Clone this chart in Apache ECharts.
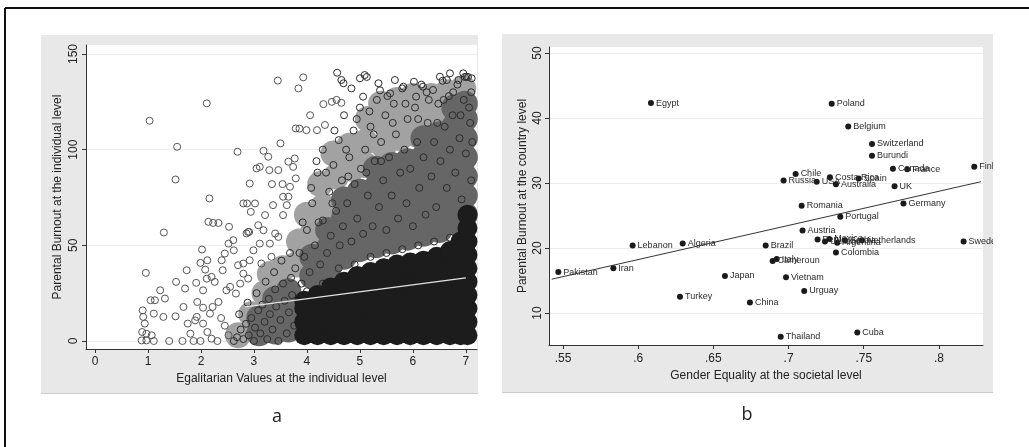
<!DOCTYPE html>
<html>
<head>
<meta charset="utf-8">
<script src="https://cdn.jsdelivr.net/npm/echarts@6/dist/echarts.min.js"></script>
<style>
    html, body { margin: 0; padding: 0; background: #fff; }
    #chart { width: 1029px; height: 447px; }
</style>
</head>
<body>
<div id="chart"></div>
<script>
// panel a: individual level (egalitarian values, parental burnout)
var indivTicksX = [0, 1, 2, 3, 4, 5, 6, 7]
var indivTicksY = [0, 50, 100, 150]

// scattered single respondents
var indivSparse = [
    [1.03, 115.1], [2.11, 124.2], [1.55, 101.5], [1.52, 84.4], [1.30, 56.7], [2.16, 74.5],
    [2.69, 98.9], [2.92, 82.3], [3.45, 136.1], [3.93, 137.8], [3.84, 132.0], [3.18, 99.4],
    [3.27, 96.3], [3.50, 103.3], [3.05, 90.2], [3.11, 91.0], [3.29, 89.3], [3.46, 89.3],
    [2.87, 71.9], [3.02, 71.9], [2.94, 67.5], [2.89, 57.0], [2.80, 71.9], [3.34, 82.0],
    [3.54, 82.0], [3.65, 93.7], [3.77, 95.4], [3.79, 111.1], [3.86, 111.0], [3.99, 110.2],
    [4.06, 118.0], [4.19, 110.2], [4.34, 112.9], [4.31, 123.8], [4.47, 125.0], [4.56, 126.0],
    [4.65, 124.5], [0.97, 0.3], [0.90, 16.0], [0.96, 35.6], [1.05, 21.3], [1.13, 21.3],
    [1.23, 26.5], [1.32, 22.2], [1.29, 12.6], [1.11, 14.3], [0.91, 12.6], [0.94, 9.1],
    [0.89, 4.7], [0.88, 0.3], [0.97, 3.8], [1.07, 3.0], [1.11, 0], [1.40, 0],
    [1.52, 12.9], [1.53, 30.9], [1.67, 17.8], [1.70, 27.4], [1.73, 37.0], [1.65, 0],
    [1.75, 9.1], [1.80, 3.8], [1.86, 0], [1.89, 10.8], [1.92, 12.6], [1.93, 20.4],
    [1.91, 30.4], [1.99, 40.8], [2.02, 47.8], [2.08, 37.3], [2.12, 42.2], [2.14, 62.3],
    [2.23, 61.7], [2.33, 61.7], [2.04, 26.5], [2.11, 32.6], [2.20, 33.5], [2.26, 30.9],
    [2.04, 17.4], [2.17, 14.3], [2.22, 17.8], [2.33, 20.4], [2.04, 9.1], [2.12, 4.7],
    [1.99, 0], [2.20, 1.2], [2.31, 0], [2.41, 37.0], [2.45, 45.7], [2.52, 50.9],
    [2.53, 59.7], [2.61, 52.7], [2.62, 47.4], [2.39, 42.2], [2.48, 26.5], [2.55, 28.3],
    [2.66, 24.8], [2.74, 30.0], [2.70, 39.6], [2.80, 40.5], [2.86, 56.2], [2.91, 57.0],
    [2.80, 35.2], [2.89, 32.6], [2.92, 42.2], [2.99, 47.4], [3.08, 60.5], [3.11, 50.9],
    [3.18, 57.9], [3.21, 65.8], [3.14, 40.5], [3.30, 50.9], [3.33, 44.0], [3.40, 56.2],
    [3.46, 54.4], [3.55, 65.8], [3.62, 71.0], [3.65, 75.4], [3.68, 80.6], [3.79, 85.0],
    [3.74, 91.0], [3.55, 75.4], [3.36, 71.0], [2.45, 8.0], [2.52, 3.0], [2.38, 12.0]
]

// rings inside the crowded part of the cloud
var indivCloud = [
    [2.62, 0], [2.68, 2], [2.75, 6], [2.80, 1], [2.85, 9], [2.90, 3], [2.95, 12], [3.00, 0],
    [3.02, 7], [3.08, 16], [3.12, 4], [3.16, 19], [3.20, 10], [3.25, 1], [3.28, 22], [3.30, 14],
    [3.35, 6], [3.40, 27], [3.42, 18], [3.46, 0], [3.50, 11], [3.55, 30], [3.58, 21], [3.62, 4],
    [3.66, 15], [3.70, 33], [3.72, 24], [3.76, 8], [3.78, 38], [2.72, 14], [2.88, 20], [3.05, 25],
    [3.22, 31], [3.38, 36], [3.52, 42], [3.68, 46],
    [3.90, 30], [3.95, 44], [4.00, 58], [4.05, 36], [4.10, 72], [4.15, 50], [4.20, 88], [4.25, 40],
    [4.30, 63], [4.30, 100], [4.38, 46], [4.42, 78], [4.45, 55], [4.50, 92], [4.55, 68], [4.60, 105],
    [4.62, 50], [4.66, 84], [4.70, 118], [4.68, 60], [4.76, 72], [4.80, 96], [4.84, 52], [4.88, 110],
    [4.90, 82], [4.95, 64], [5.00, 122], [5.02, 90], [5.06, 56], [5.10, 100], [5.15, 76], [5.20, 112],
    [5.24, 60], [5.28, 94], [5.32, 126], [5.36, 70], [5.40, 104], [5.44, 84], [5.48, 118], [5.50, 58],
    [5.55, 96], [5.60, 76], [5.64, 124], [5.68, 108], [5.72, 64], [5.76, 88], [5.80, 132], [5.84, 100],
    [5.88, 72], [5.90, 116], [5.95, 90], [6.00, 60], [6.04, 122], [6.08, 104], [6.12, 80], [6.16, 134],
    [6.20, 96], [6.24, 66], [6.28, 114], [6.30, 126], [6.35, 86], [6.40, 104], [6.44, 70], [6.48, 124],
    [6.52, 94], [6.56, 136], [6.60, 112], [6.64, 80], [6.68, 128], [6.70, 100], [6.75, 118], [6.80, 88],
    [6.84, 134], [6.88, 106], [6.92, 74], [6.96, 126], [7.00, 98], [7.04, 138], [7.08, 114], [7.10, 84],
    [7.10, 130], [7.06, 122], [6.98, 138], [7.12, 104],
    [4.57, 140.2], [4.65, 136.4], [4.69, 134.7], [4.84, 132.0], [5.00, 137.3], [5.09, 139.0], [5.06, 127.7],
    [5.13, 138.0], [5.35, 134.7], [5.38, 131.0], [5.57, 129.4], [5.66, 136.4], [5.82, 132.9], [6.02, 135.5],
    [6.06, 127.7], [6.19, 132.9], [6.38, 131.2], [6.51, 138.1], [6.64, 136.4], [6.70, 139.9], [6.86, 136.4],
    [6.95, 139.9], [7.01, 138.1], [7.11, 137.3],
    [4.00, 26], [4.30, 30], [4.60, 38], [4.90, 40], [5.20, 44], [5.50, 46], [5.80, 48], [6.10, 50],
    [6.40, 52], [6.70, 54],
    [3.92, 62], [4.08, 80], [4.18, 94], [4.36, 88], [4.52, 110], [4.74, 100], [4.94, 116], [5.18, 120],
    [5.26, 108], [5.52, 128], [5.62, 114], [5.86, 124], [6.10, 116], [6.26, 130], [6.46, 114], [6.58, 126],
    [6.76, 130], [6.90, 118], [3.86, 46], [4.22, 62], [4.48, 72], [4.78, 86], [5.12, 88], [5.40, 94]
]

// grey shading where the rings pile up
var indivHazeLight = [
    [2.70, 3], [2.95, 14], [3.20, 25], [3.30, 35], [3.55, 38], [3.80, 40], [3.85, 52], [4.10, 56],
    [4.00, 66], [4.30, 70], [4.25, 82], [4.55, 86], [4.50, 98], [4.85, 90], [4.80, 102], [5.10, 92],
    [5.10, 104], [5.15, 116], [5.45, 102], [5.45, 114], [5.40, 124], [5.75, 106], [5.75, 118], [5.70, 126],
    [6.05, 108], [6.05, 120], [6.00, 128], [6.35, 118], [6.35, 128], [6.60, 120], [6.65, 130], [6.95, 132]
]
var indivHazeDark = [
    [3.10, 4], [3.10, 12], [3.40, 5], [3.40, 14], [3.40, 22], [3.65, 6], [3.65, 16], [3.65, 26],
    [4.10, 34], [4.10, 44], [4.40, 38], [4.40, 48], [4.40, 58], [4.70, 44], [4.70, 54], [4.70, 64],
    [4.70, 74], [5.00, 48], [5.00, 58], [5.00, 68], [5.00, 78], [5.30, 50], [5.30, 60], [5.30, 70],
    [5.30, 80], [5.30, 90], [5.60, 52], [5.60, 62], [5.60, 72], [5.60, 82], [5.60, 92], [5.90, 54],
    [5.90, 64], [5.90, 74], [5.90, 84], [5.90, 94], [6.20, 56], [6.20, 66], [6.20, 76], [6.20, 86],
    [6.20, 96], [6.20, 106], [6.50, 58], [6.50, 68], [6.50, 78], [6.50, 88], [6.50, 98], [6.50, 108],
    [6.78, 62], [6.78, 72], [6.78, 82], [6.78, 92], [6.78, 102], [6.78, 112], [6.78, 122], [6.98, 66],
    [6.98, 76], [6.98, 86], [6.98, 96], [6.98, 106], [6.98, 116], [6.98, 124]
]

// solid black mass at the bottom right
var indivCore = [
    [3.95, 3], [3.95, 10], [3.95, 17], [3.95, 21],
    [4.20, 3], [4.20, 10], [4.20, 17], [4.20, 24],
    [4.45, 3], [4.45, 10], [4.45, 17], [4.45, 24], [4.45, 28],
    [4.70, 3], [4.70, 10], [4.70, 17], [4.70, 24], [4.70, 31],
    [4.95, 3], [4.95, 10], [4.95, 17], [4.95, 24], [4.95, 31], [4.95, 34],
    [5.20, 3], [5.20, 10], [5.20, 17], [5.20, 24], [5.20, 31], [5.20, 36],
    [5.45, 3], [5.45, 10], [5.45, 17], [5.45, 24], [5.45, 31], [5.45, 38],
    [5.70, 3], [5.70, 10], [5.70, 17], [5.70, 24], [5.70, 31], [5.70, 38], [5.70, 40],
    [5.95, 3], [5.95, 10], [5.95, 17], [5.95, 24], [5.95, 31], [5.95, 38], [5.95, 41],
    [6.20, 3], [6.20, 10], [6.20, 17], [6.20, 24], [6.20, 31], [6.20, 38], [6.20, 42],
    [6.45, 3], [6.45, 10], [6.45, 17], [6.45, 24], [6.45, 31], [6.45, 38], [6.45, 44],
    [6.70, 3], [6.70, 10], [6.70, 17], [6.70, 24], [6.70, 31], [6.70, 38], [6.70, 45], [6.70, 47],
    [6.90, 3], [6.90, 10], [6.90, 17], [6.90, 24], [6.90, 31], [6.90, 38], [6.90, 45], [6.90, 52],
    [7.03, 3], [7.03, 10], [7.03, 17], [7.03, 24], [7.03, 31], [7.03, 38], [7.03, 45], [7.03, 52],
    [7.03, 59], [7.03, 66]
]

var indivFit = [[2.83, 17.8], [7.0, 33.0]]

// panel b: country level
var countries = [
    'Egypt', 'Poland', 'Belgium', 'Switzerland', 'Burundi', 'Canada', 'France', 'Finland',
    'Chile', 'Russia', 'USA', 'Costa Rica', 'Spain', 'Australia', 'UK', 'Romania',
    'Germany', 'Portugal', 'Austria', 'Peru', 'Ukraine', 'Mexico', 'Argentina', 'Serbia',
    'Netherlands', 'Colombia', 'Sweden', 'Lebanon', 'Algeria', 'Brazil', 'Pakistan', 'Iran',
    'Cameroun', 'Italy', 'Japan', 'Vietnam', 'Urguay', 'Turkey', 'China', 'Thailand', 'Cuba'
]
var genderEquality = [
    0.6085, 0.7287, 0.7397, 0.7555, 0.7555, 0.7694, 0.7789, 0.8235,
    0.7047, 0.6967, 0.7187, 0.7275, 0.7466, 0.7315, 0.7705, 0.7087,
    0.7764, 0.7344, 0.7093, 0.7193, 0.7242, 0.7271, 0.7324, 0.7375,
    0.7488, 0.7315, 0.8164, 0.5963, 0.6296, 0.6848, 0.5469, 0.5835,
    0.6894, 0.6921, 0.6577, 0.6983, 0.7104, 0.6278, 0.6743, 0.6948, 0.7457
]
var burnoutCountry = [
    42.3, 42.2, 38.7, 36.0, 34.2, 32.2, 32.1, 32.5,
    31.4, 30.4, 30.2, 30.9, 30.7, 29.8, 29.5, 26.5,
    26.85, 24.8, 22.7, 21.3, 21.0, 21.4, 20.8, 21.2,
    21.2, 19.3, 21.0, 20.4, 20.7, 20.4, 16.3, 16.9,
    18.0, 18.3, 15.7, 15.5, 13.4, 12.5, 11.6, 6.35, 7.0
]
var countryTicksX = [0.55, 0.6, 0.65, 0.7, 0.75, 0.8]
var countryTicksY = [10, 20, 30, 40, 50]
var countryFit = [[0.5425, 15.2], [0.828, 30.2]]

var FONT = '"Liberation Sans", Arial, sans-serif'
var INK = '#222'
var PANEL = '#e8e8e8'

var axisStyle = function (opts) {
    var isY = opts.isY
    return {
        type: 'value',
        gridIndex: opts.grid,
        min: opts.min,
        max: opts.max,
        name: opts.name,
        nameLocation: 'middle',
        nameGap: opts.nameGap,
        nameRotate: isY ? 90 : 0,
        nameTextStyle: { fontFamily: FONT, fontSize: 12, color: INK },
        axisLine: { show: true, onZero: false, lineStyle: { color: '#333', width: 1 } },
        axisTick: { show: true, length: 4, customValues: opts.ticks, lineStyle: { color: '#333' } },
        axisLabel: {
            customValues: opts.ticks,
            rotate: isY ? 90 : 0,
            margin: opts.margin,
            fontFamily: FONT,
            fontSize: 12,
            color: INK,
            formatter: opts.formatter
        },
        splitLine: { show: isY, lineStyle: { color: '#ececec', width: 1 } }
    }
}

var dropZero = function (v) {
    return String(Math.round(v * 100) / 100).replace(/^0/, '')
}

var ring = function (data, color) {
    return {
        type: 'scatter', xAxisIndex: 0, yAxisIndex: 0, data: data,
        symbol: 'circle', symbolSize: 7, silent: true,
        itemStyle: { color: 'rgba(0,0,0,0)', borderColor: color, borderWidth: 1, opacity: 1 }
    }
}

var blob = function (data, color, size) {
    return {
        type: 'scatter', xAxisIndex: 0, yAxisIndex: 0, data: data,
        symbol: 'circle', symbolSize: size, silent: true,
        itemStyle: { color: color, opacity: 1 }
    }
}

var countryData = []
for (var i = 0; i < countries.length; i++) {
    countryData.push({ name: countries[i], value: [genderEquality[i], burnoutCountry[i]] })
}

var option = {
    animation: false,
    backgroundColor: '#fff',
    graphic: [
        { type: 'rect', z: -10, shape: { x: 41, y: 35, width: 437, height: 359 }, style: { fill: PANEL } },
        { type: 'rect', z: -10, shape: { x: 502, y: 34, width: 491, height: 359 }, style: { fill: PANEL } },
        { type: 'line', z: -9, shape: { x1: 41, y1: 393.5, x2: 478, y2: 393.5 }, style: { stroke: '#cbcbcb', lineWidth: 1 } },
        { type: 'line', z: -9, shape: { x1: 502, y1: 392.5, x2: 993, y2: 392.5 }, style: { stroke: '#cbcbcb', lineWidth: 1 } },
        // labels running past the grey panel are cut like in the original
        { type: 'rect', z: 50, shape: { x: 993, y: 20, width: 36, height: 380 }, style: { fill: '#fff' } },
        { type: 'line', z: 60, shape: { x1: 5, y1: 8, x2: 1029, y2: 8 }, style: { stroke: '#111', lineWidth: 2 } },
        { type: 'line', z: 60, shape: { x1: 5, y1: 8, x2: 5, y2: 447 }, style: { stroke: '#111', lineWidth: 2 } },
        { type: 'text', z: 60, style: { text: 'a', x: 277, y: 417, fontSize: 18, fontFamily: '"Open Sans", sans-serif', fill: INK, textAlign: 'center', textVerticalAlign: 'middle' } },
        { type: 'text', z: 60, style: { text: 'b', x: 747, y: 415, fontSize: 18, fontFamily: '"Open Sans", sans-serif', fill: INK, textAlign: 'center', textVerticalAlign: 'middle' } }
    ],
    grid: [
        { left: 86, top: 45, width: 391, height: 304, show: true, backgroundColor: '#fff', borderWidth: 0 },
        { left: 549, top: 47, width: 434, height: 298, show: true, backgroundColor: '#fff', borderWidth: 0 }
    ],
    xAxis: [
        axisStyle({ grid: 0, min: -0.17, max: 7.21, ticks: indivTicksX, margin: 7, nameGap: 22,
            name: 'Egalitarian Values at the individual level' }),
        axisStyle({ grid: 1, min: 0.5407, max: 0.8293, ticks: countryTicksX, margin: 8, nameGap: 21,
            name: 'Gender Equality at the societal level', formatter: dropZero })
    ],
    yAxis: [
        axisStyle({ grid: 0, isY: true, min: -4.18, max: 154.7, ticks: indivTicksY, margin: 6, nameGap: 22,
            name: 'Parental Burnout at the individual level' }),
        axisStyle({ grid: 1, isY: true, min: 5.08, max: 50.92, ticks: countryTicksY, margin: 5, nameGap: 20,
            name: 'Parental Burnout at the country level' })
    ],
    series: [
        blob(indivHazeLight, '#a2a2a2', 26),
        blob(indivHazeDark, '#666', 26),
        ring(indivSparse, '#555'),
        ring(indivCloud, '#2c2c2c'),
        blob(indivCore, '#1c1c1c', 20),
        {
            type: 'line', xAxisIndex: 0, yAxisIndex: 0, data: indivFit,
            symbol: 'none', silent: true,
            lineStyle: { color: '#e2e2e2', width: 1.3 }
        },
        {
            type: 'line', xAxisIndex: 1, yAxisIndex: 1, data: countryFit,
            symbol: 'none', silent: true, z: 3,
            lineStyle: { color: '#333', width: 1 }
        },
        {
            type: 'scatter', xAxisIndex: 1, yAxisIndex: 1, data: countryData,
            symbol: 'circle', symbolSize: 6, silent: true, z: 4,
            itemStyle: { color: '#1a1a1a', opacity: 1 },
            label: {
                show: true, position: 'right', distance: 2,
                formatter: '{b}', fontFamily: FONT, fontSize: 9, color: '#2a2a2a'
            }
        }
    ]
}

echarts.init(document.getElementById('chart'), null, { renderer: 'canvas' }).setOption(option)
</script>
</body>
</html>
